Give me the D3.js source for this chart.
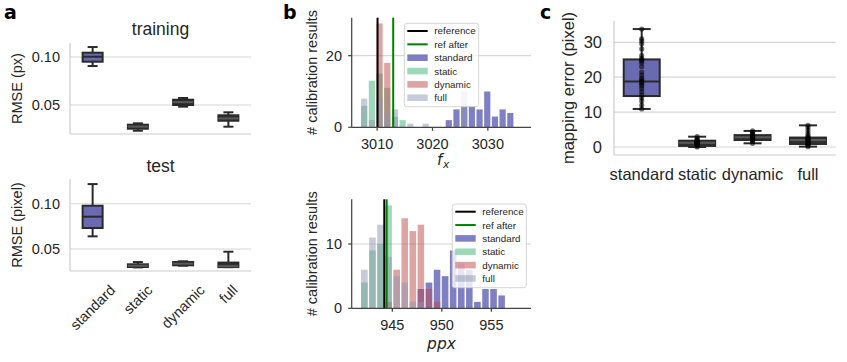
<!DOCTYPE html>
<html>
<head>
<meta charset="utf-8">
<script src="https://cdn.jsdelivr.net/npm/d3@7"></script>
<style>
  body { margin: 0; background: #fff; }
  text { font-family: "Liberation Sans", Arial, sans-serif; fill: #262626; }
</style>
</head>
<body>
<div id="chart"></div>
<script>
// ---- data ----
var groups = ["standard", "static", "dynamic", "full"];

// box summaries: [whisker low, q1, median, q3, whisker high]
var trainBoxes = [[0.0906, 0.0951, 0.1003, 0.1045, 0.1104],
                  [0.0232, 0.0253, 0.0275, 0.0295, 0.0309],
                  [0.0483, 0.0500, 0.0530, 0.0555, 0.0573],
                  [0.0274, 0.0336, 0.0360, 0.0393, 0.0424]];
var testBoxes = [[0.0640, 0.0732, 0.0857, 0.0978, 0.1217],
                 [0.0297, 0.0301, 0.0315, 0.0331, 0.0356],
                 [0.0316, 0.0320, 0.0338, 0.0357, 0.0364],
                 [0.0300, 0.0300, 0.0310, 0.0350, 0.0470]];
var mapBoxes = [[10.9, 14.6, 18.8, 25.1, 33.8],
                [0.0, 0.3, 1.2, 1.8, 2.95],
                [1.05, 2.0, 2.8, 3.4, 4.6],
                [0.1, 0.86, 2.0, 2.7, 6.2]];
var mapPoints = [
  [10.9, 12.0, 13.2, 14.1, 14.9, 15.8, 16.7, 17.5, 18.0, 18.5, 18.9, 19.3, 19.8, 20.6, 21.5, 23.0, 24.0, 24.6, 25.0, 25.4, 26.2, 28.1, 29.6, 30.4, 31.0, 33.8],
  [0.0, 0.3, 0.5, 0.7, 0.9, 1.0, 1.1, 1.2, 1.3, 1.4, 1.5, 1.6, 1.8, 2.1, 2.5, 2.95],
  [1.05, 1.6, 2.0, 2.2, 2.5, 2.7, 2.8, 2.9, 3.1, 3.3, 3.4, 3.8, 4.2, 4.6],
  [0.1, 0.5, 0.8, 1.0, 1.3, 1.6, 1.8, 2.0, 2.2, 2.4, 2.6, 2.8, 3.3, 4.0, 4.8, 5.6, 6.2]
];

// histogram of f_x
var fxEdges = [3006.96, 3008.35, 3009.74, 3011.13, 3012.52, 3013.91, 3015.30, 3016.69, 3018.08, 3019.47,
               3020.86, 3022.25, 3023.64, 3025.03, 3026.42, 3027.81, 3029.20, 3030.59, 3031.98, 3033.37, 3034.76];
var fxStandard = [0, 0, 0, 0, 0, 0, 0, 0, 0, 0, 0, 2, 5, 6, 6, 5, 10, 3, 5, 4];
var fxStatic   = [6, 13, 15, 11, 3, 2, 0, 0, 0, 0, 0, 0, 0, 0, 0, 0, 0, 0, 0, 0];
var fxDynamic  = [0, 0, 29, 18, 0, 0, 0, 0, 0, 0, 0, 0, 0, 0, 0, 0, 0, 0, 0, 0];
var fxFull     = [8, 2, 8, 4, 5, 0, 1, 0, 1, 0, 0, 0, 0, 10, 0, 0, 0, 0, 0, 0];
var fxRef = 3010.07, fxRefAfter = 3012.9;

// histogram of ppx
var ppxEdges = [941.77, 942.59, 943.40, 944.22, 945.03, 945.85, 946.66, 947.48, 948.29, 949.11,
                949.92, 950.74, 951.55, 952.37, 953.18, 954.00, 954.81, 955.63, 956.44];
var ppxStandard = [0, 0, 0, 0, 0, 0, 0, 3, 4, 6, 5, 9, 7, 6, 1, 3, 3, 2];
var ppxStatic   = [4, 9, 10, 16, 0, 0, 0, 0, 0, 0, 0, 0, 0, 0, 0, 0, 0, 0];
var ppxDynamic  = [0, 0, 0, 1, 6, 14, 12, 13, 3, 1, 0, 0, 0, 0, 0, 0, 0, 0];
var ppxFull     = [6, 11, 13, 8, 5, 4, 1, 1, 0, 0, 0, 0, 0, 0, 0, 0, 0, 0];
var ppxRef = 944.19, ppxRefAfter = 944.43;

var seriesColors = {standard: "#00008b", static: "#3cb371", dynamic: "#bd4747", full: "#8f98b0"};
var stdBoxColor = "#6a6ab2";

// ---- svg ----
var svg = d3.select("#chart").append("svg")
    .attr("width", 847)
    .attr("height", 362);

function panelLetter(x, y, s) {
  svg.append("text").attr("x", x).attr("y", y).text(s)
    .style("font-family", "'DejaVu Sans', sans-serif")
    .style("font-weight", "bold").style("font-size", "19px").style("fill", "#000");
}
panelLetter(4, 19, "a");
panelLetter(283, 19, "b");
panelLetter(540, 19, "c");

// ---- box plot helper ----
function boxPanel(opts) {
  var x = d3.scaleBand().domain(groups).range(opts.xr);
  var y = d3.scaleLinear().domain(opts.yd).range(opts.yr);
  var g = svg.append("g");

  // grid
  g.selectAll(".grid").data(opts.ticks).enter().append("line")
    .attr("x1", opts.xr[0]).attr("x2", opts.xr[1])
    .attr("y1", function(d) { return y(d); }).attr("y2", function(d) { return y(d); })
    .attr("stroke", "#d6d6d6").attr("stroke-width", 1.2);
  // spines
  g.append("line").attr("x1", opts.xr[0]).attr("x2", opts.xr[0])
    .attr("y1", opts.yr[0]).attr("y2", opts.yr[1]).attr("stroke", "#cccccc").attr("stroke-width", 1.2);
  g.append("line").attr("x1", opts.xr[0]).attr("x2", opts.xr[1])
    .attr("y1", opts.yr[0]).attr("y2", opts.yr[0]).attr("stroke", "#cccccc").attr("stroke-width", 1.2);
  // y tick labels
  g.selectAll(".yt").data(opts.ticks).enter().append("text")
    .attr("x", opts.xr[0] - opts.tickGap).attr("y", function(d) { return y(d); })
    .attr("text-anchor", "end").attr("dominant-baseline", "central")
    .style("font-size", opts.fs + "px")
    .text(opts.fmt);

  // boxes
  var bw = opts.boxW, cw = opts.capW;
  opts.boxes.forEach(function(b, i) {
    var cx = x(groups[i]) + x.bandwidth() / 2;
    var dark = "#2a2a2a";
    var bg = g.append("g");
    bg.append("line").attr("x1", cx).attr("x2", cx).attr("y1", y(b[0])).attr("y2", y(b[1]))
      .attr("stroke", dark).attr("stroke-width", 2);
    bg.append("line").attr("x1", cx).attr("x2", cx).attr("y1", y(b[3])).attr("y2", y(b[4]))
      .attr("stroke", dark).attr("stroke-width", 2);
    bg.append("line").attr("x1", cx - cw / 2).attr("x2", cx + cw / 2).attr("y1", y(b[0])).attr("y2", y(b[0]))
      .attr("stroke", dark).attr("stroke-width", 2);
    bg.append("line").attr("x1", cx - cw / 2).attr("x2", cx + cw / 2).attr("y1", y(b[4])).attr("y2", y(b[4]))
      .attr("stroke", dark).attr("stroke-width", 2);
    bg.append("rect").attr("x", cx - bw / 2).attr("width", bw)
      .attr("y", y(b[3])).attr("height", Math.max(1, y(b[1]) - y(b[3])))
      .attr("fill", i == 0 ? stdBoxColor : "#303030")
      .attr("stroke", dark).attr("stroke-width", 2);
    bg.append("line").attr("x1", cx - bw / 2).attr("x2", cx + bw / 2).attr("y1", y(b[2])).attr("y2", y(b[2]))
      .attr("stroke", i == 0 ? dark : "#5a5a5a").attr("stroke-width", 2);
    if (opts.points) {
      bg.selectAll("circle").data(opts.points[i]).enter().append("circle")
        .attr("cx", cx).attr("cy", function(d) { return y(d); })
        .attr("r", 2.6).attr("fill", "#000").attr("fill-opacity", 0.55);
    }
  });
  return {x: x, y: y, g: g};
}

// ---- panel a ----
var aTrain = boxPanel({xr: [70, 251], yd: [0.0198, 0.1146], yr: [134, 43], ticks: [0.05, 0.10],
  fmt: d3.format(".2f"), boxes: trainBoxes, boxW: 20, capW: 10, fs: 14.5, tickGap: 10});
svg.append("text").attr("x", 160.5).attr("y", 34.5).attr("text-anchor", "middle")
  .style("font-size", "17.5px").text("training");
svg.append("text").attr("transform", "translate(21.5,88.5) rotate(-90)")
  .attr("text-anchor", "middle").style("font-size", "14.5px").text("RMSE (px)");

var aTest = boxPanel({xr: [70, 251], yd: [0.0257, 0.127], yr: [271, 179.3], ticks: [0.05, 0.10],
  fmt: d3.format(".2f"), boxes: testBoxes, boxW: 20, capW: 10, fs: 14.5, tickGap: 10});
svg.append("text").attr("x", 160.5).attr("y", 171.5).attr("text-anchor", "middle")
  .style("font-size", "17.5px").text("test");
svg.append("text").attr("transform", "translate(21.5,225) rotate(-90)")
  .attr("text-anchor", "middle").style("font-size", "14.5px").text("RMSE (pixel)");

// rotated category labels (bbox centred on tick, top fixed)
groups.forEach(function(gname) {
  var cx = aTest.x(gname) + aTest.x.bandwidth() / 2;
  var t = svg.append("text").attr("text-anchor", "middle").attr("dominant-baseline", "central")
    .style("font-size", "14.5px").text(gname);
  var w = t.node().getComputedTextLength();
  var cy = 284 + (w + 10) * Math.SQRT1_2 / 2;
  t.attr("transform", "translate(" + cx + "," + cy + ") rotate(-45)");
});

// ---- panel c ----
var cPanel = boxPanel({xr: [614, 835.7], yd: [-2.3, 36.2], yr: [155, 20.7], ticks: [0, 10, 20, 30],
  fmt: d3.format("d"), boxes: mapBoxes, boxW: 36, capW: 18, fs: 16.5, tickGap: 12, points: mapPoints});
cPanel.g.selectAll(".xt").data(groups).enter().append("text")
  .attr("x", function(d) { return cPanel.x(d) + cPanel.x.bandwidth() / 2; })
  .attr("y", 180).attr("text-anchor", "middle").style("font-size", "16.5px")
  .text(function(d) { return d; });
svg.append("text").attr("transform", "translate(574,88) rotate(-90)")
  .attr("text-anchor", "middle").style("font-size", "16.5px").text("mapping error (pixel)");

// ---- panel b helper ----
function histPanel(opts) {
  var x = d3.scaleLinear().domain(opts.xd).range([351.7, 531]);
  var y = d3.scaleLinear().domain(opts.yd).range(opts.yr);
  var g = svg.append("g");
  var bottom = opts.yr[0], top = opts.yr[1];

  g.selectAll(".grid").data(opts.yticks.filter(function(d) { return d > 0; })).enter().append("line")
    .attr("x1", 351.7).attr("x2", 531)
    .attr("y1", function(d) { return y(d); }).attr("y2", function(d) { return y(d); })
    .attr("stroke", "#d6d6d6").attr("stroke-width", 1.2);

  var series = [["standard", opts.standard], ["static", opts.static], ["dynamic", opts.dynamic], ["full", opts.full]];
  series.forEach(function(s) {
    var rows = s[1].map(function(c, i) { return {c: c, x0: opts.edges[i], x1: opts.edges[i + 1]}; })
      .filter(function(d) { return d.c > 0; });
    g.append("g").selectAll("rect").data(rows).enter().append("rect")
      .attr("x", function(d) { return x(d.x0) + 0.75; })
      .attr("width", function(d) { return x(d.x1) - x(d.x0) - 1.5; })
      .attr("y", function(d) { return y(d.c); })
      .attr("height", function(d) { return bottom - y(d.c); })
      .attr("fill", seriesColors[s[0]]).attr("fill-opacity", 0.5);
  });

  // reference lines
  [[opts.ref, "#000"], [opts.refAfter, "#007f00"]].forEach(function(r) {
    g.append("line").attr("x1", x(r[0])).attr("x2", x(r[0])).attr("y1", top).attr("y2", bottom)
      .attr("stroke", r[1]).attr("stroke-width", 2);
  });

  // spines + ticks
  g.append("line").attr("x1", 351.7).attr("x2", 351.7).attr("y1", top).attr("y2", bottom)
    .attr("stroke", "#444").attr("stroke-width", 1.25);
  g.append("line").attr("x1", 351.7).attr("x2", 531).attr("y1", bottom).attr("y2", bottom)
    .attr("stroke", "#444").attr("stroke-width", 1.25);
  g.selectAll(".xtk").data(opts.xticks).enter().append("line")
    .attr("x1", function(d) { return x(d); }).attr("x2", function(d) { return x(d); })
    .attr("y1", bottom).attr("y2", bottom + 3.5).attr("stroke", "#444").attr("stroke-width", 1.25);
  g.selectAll(".xtl").data(opts.xticks).enter().append("text")
    .attr("x", function(d) { return x(d); }).attr("y", bottom + 21.3)
    .attr("text-anchor", "middle").style("font-size", "14.5px").text(function(d) { return d; });
  g.selectAll(".ytk").data(opts.yticks).enter().append("line")
    .attr("x1", 351.7 - 3.5).attr("x2", 351.7)
    .attr("y1", function(d) { return y(d); }).attr("y2", function(d) { return y(d); })
    .attr("stroke", "#444").attr("stroke-width", 1.25);
  g.selectAll(".ytl").data(opts.yticks).enter().append("text")
    .attr("x", 342).attr("y", function(d) { return y(d); })
    .attr("text-anchor", "end").attr("dominant-baseline", "central")
    .style("font-size", "14.5px").text(function(d) { return d; });

  svg.append("text").attr("transform", "translate(317," + ((top + bottom) / 2) + ") rotate(-90)")
    .attr("text-anchor", "middle").style("font-size", "14.5px").text("# calibration results");

  // legend
  var L = opts.legend;
  var lg = g.append("g").attr("transform", "translate(" + L.x + "," + L.y + ")");
  lg.append("rect").attr("width", L.w).attr("height", L.h).attr("rx", 2.5)
    .attr("fill", "#fff").attr("fill-opacity", 0.8).attr("stroke", "#cccccc").attr("stroke-width", 0.8);
  var items = ["reference", "ref after", "standard", "static", "dynamic", "full"];
  items.forEach(function(name, i) {
    var cy = 7.7 + i * 13.35;
    if (i < 2) {
      lg.append("line").attr("x1", 3).attr("x2", 23.4).attr("y1", cy).attr("y2", cy)
        .attr("stroke", i == 0 ? "#000" : "#007f00").attr("stroke-width", 2);
    } else {
      lg.append("rect").attr("x", 3).attr("width", 20.4).attr("y", cy - 3.3).attr("height", 6.6)
        .attr("fill", seriesColors[name]).attr("fill-opacity", 0.5);
    }
    lg.append("text").attr("x", 30).attr("y", cy).attr("dominant-baseline", "central")
      .style("font-size", "9.8px").text(name);
  });
  return {x: x, y: y};
}

histPanel({xd: [3005.4, 3037.8], yd: [0, 30.6], yr: [127.3, 17.7], edges: fxEdges,
  standard: fxStandard, static: fxStatic, dynamic: fxDynamic, full: fxFull,
  ref: fxRef, refAfter: fxRefAfter, xticks: [3010, 3020, 3030], yticks: [0, 20],
  legend: {x: 404.3, y: 23.3, w: 74.4, h: 83.4}});
svg.append("text").attr("x", 437).attr("y", 164.5)
  .style("font-family", "'DejaVu Sans', sans-serif").style("font-style", "italic").style("font-size", "15px")
  .text("f");
svg.append("text").attr("x", 443).attr("y", 168)
  .style("font-family", "'DejaVu Sans', sans-serif").style("font-style", "italic").style("font-size", "10.5px")
  .text("x");

histPanel({xd: [940.9, 959.0], yd: [0, 16.95], yr: [308.3, 199.3], edges: ppxEdges,
  standard: ppxStandard, static: ppxStatic, dynamic: ppxDynamic, full: ppxFull,
  ref: ppxRef, refAfter: ppxRefAfter, xticks: [945, 950, 955], yticks: [0, 10],
  legend: {x: 452.3, y: 204, w: 74, h: 83.7}});
svg.append("text").attr("x", 441.5).attr("y", 349).attr("text-anchor", "middle")
  .style("font-family", "'DejaVu Sans', sans-serif").style("font-style", "italic").style("font-size", "15.5px")
  .text("ppx");
</script>
</body>
</html>
